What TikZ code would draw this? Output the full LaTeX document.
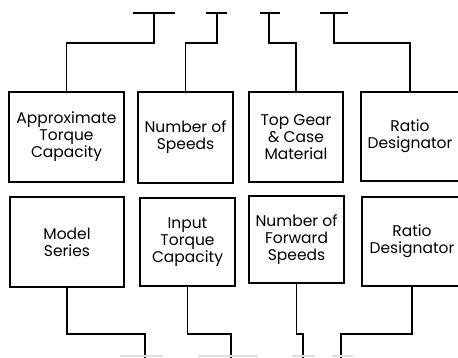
\documentclass[tikz,border=0pt]{standalone}
\usepackage{fontspec}
\setmainfont{Poppins}
\begin{document}
\begin{tikzpicture}[x=1pt,y=-1pt,
  box/.style={draw,line width=1.5pt,inner sep=0pt,align=center,
    font=\fontsize{15.5}{17}\selectfont},
  conn/.style={line width=1.4pt},
  faint/.style={line width=1.2pt,black!12}]
\useasboundingbox (0,0) rectangle (458,358);
\begin{scope}
\clip (0,0) rectangle (458,358);
% top row boxes
\node[box,minimum width=115pt,minimum height=90pt] (a1) at (66.5,137) {Approximate\\Torque\\Capacity};
\node[box,minimum width=95pt,minimum height=91pt] (a2) at (185.5,137.5) {Number of\\Speeds};
\node[box,minimum width=94pt,minimum height=90pt] (a3) at (296,137) {Top Gear\\\& Case\\Material};
\node[box,minimum width=98pt,minimum height=89pt] (a4) at (410,136.5) {Ratio\\Designator};
% bottom row boxes
\node[box,minimum width=114pt,minimum height=90pt] (b1) at (67,242) {Model\\Series};
\node[box,minimum width=95pt,minimum height=88pt] (b2) at (187.5,242) {Input\\Torque\\Capacity};
\node[box,minimum width=95pt,minimum height=87pt] (b3) at (296.5,239.5) {Number of\\Forward\\Speeds};
\node[box,minimum width=100pt,minimum height=89pt] (b4) at (412,241.5) {Ratio\\Designator};
% top T coordinates
\coordinate (t1) at (154,13); \coordinate (t1l) at (133,13); \coordinate (t1r) at (175,13);
\coordinate (t2) at (217,13); \coordinate (t2l) at (206,13); \coordinate (t2r) at (227,13);
\coordinate (t3) at (269,13); \coordinate (t3l) at (260,13); \coordinate (t3r) at (280,13);
\coordinate (t4) at (334,13); \coordinate (t4l) at (320,13); \coordinate (t4r) at (348,13);
\coordinate (hy) at (0,43);
\draw[conn] (t1l) -- (t1r);
\draw[conn] (t2l) -- (t2r);
\draw[conn] (t3l) -- (t3r);
\draw[conn] (t4l) -- (t4r);
\draw[conn] (t1) -- (t1 |- hy) -| (a1.north);
\draw[conn] (t2) -- (t2 |- hy) -| (a2.north);
\draw[conn] (t3) -- (t3 |- hy) -| (a3.north);
\draw[conn] (t4) -- (t4 |- hy) -| (a4.north);
% bottom connectors
\coordinate (s1) at (145,358); \coordinate (s2) at (231,358);
\coordinate (s3) at (303,358); \coordinate (s4) at (341,358);
\coordinate (ly) at (0,334);
\draw[conn] (b1.south) |- (s1 |- ly) -- (s1);
\draw[conn] (b2.south) |- (s2 |- ly) -- (s2);
\draw[conn] (b3.south) |- (s3 |- ly) -- (s3);
\draw[conn] (b4.south) |- (s4 |- ly) -- (s4);
% faint partial bars at bottom edge
\coordinate (f1l) at (120,356); \coordinate (f1r) at (163,356);
\coordinate (f2l) at (198,356); \coordinate (f2r) at (258,356);
\coordinate (f3l) at (292,356); \coordinate (f3r) at (315,356);
\coordinate (f4l) at (332,356); \coordinate (f4r) at (353,356);
\draw[faint] (f1l) -- (f1r);
\draw[faint] (f2l) -- (f2r);
\draw[faint] (f3l) -- (f3r);
\draw[faint] (f4l) -- (f4r);
\end{scope}
\end{tikzpicture}
\end{document}
